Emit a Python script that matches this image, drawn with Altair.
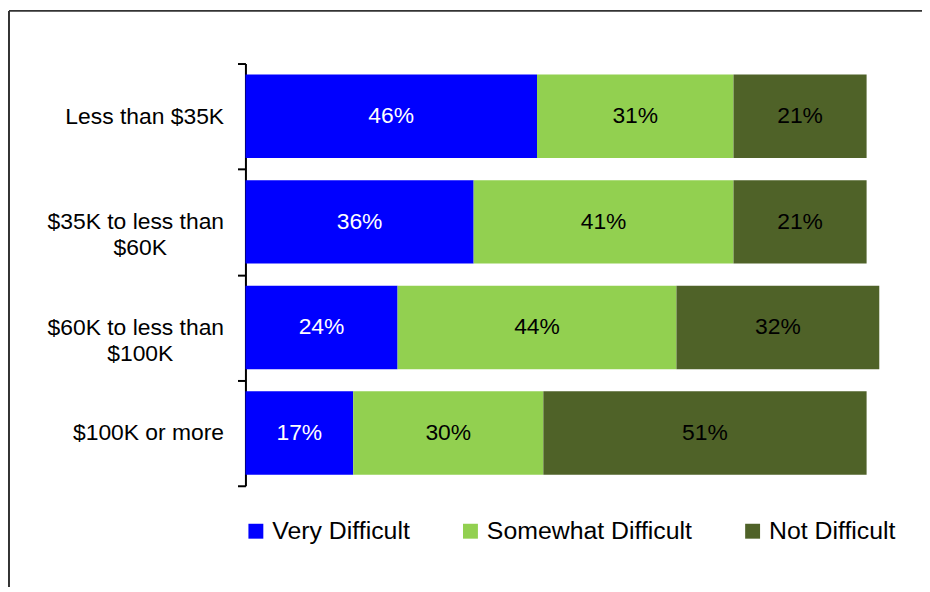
import altair as alt
import pandas as pd

NB = "\u00a0"
ZW = "\u200b"

categories = ["Less than $35K", "$35K to less than $60K", "$60K to less than $100K", "$100K or more"]
label_lines = [
    ["Less than $35K"],
    ["$35K to less than", "$60K" + NB * 9 + ZW],
    ["$60K to less than", "$100K" + NB * 8 + ZW],
    ["$100K or more"],
]
series = ["Very Difficult", "Somewhat Difficult", "Not Difficult"]
very_difficult = [46, 36, 24, 17]
somewhat_difficult = [31, 41, 44, 30]
not_difficult = [21, 21, 32, 51]
colors = ["#0000FF", "#92D050", "#4F6228"]
text_colors = ["#FFFFFF", "#000000", "#000000"]

rows = []
for i, cat in enumerate(categories):
    for j, (s, vals) in enumerate(zip(series, [very_difficult, somewhat_difficult, not_difficult])):
        rows.append({"category": cat, "series": s, "value": vals[i], "order": j, "tcolor": text_colors[j]})
df = pd.DataFrame(rows)

def js_str(s):
    return "'" + s.replace("\\", "\\\\").replace("'", "\\'") + "'"

expr = "datum.value"
for cat, lines in reversed(list(zip(categories, label_lines))):
    arr = "[" + ",".join(js_str(l) for l in lines) + "]"
    expr = f"datum.value == {js_str(cat)} ? {arr} : ({expr})"

FONT = "Liberation Sans"

base = alt.Chart(df).transform_stack(
    stack="value", groupby=["category"], as_=["x0", "x1"], sort=[alt.SortField("order", order="ascending")]
).transform_calculate(mid="(datum.x0 + datum.x1) / 2", label="datum.value + '%'")

yenc = alt.Y(
    "category:N",
    sort=categories,
    scale=alt.Scale(paddingInner=0, paddingOuter=0),
    axis=alt.Axis(
        title=None,
        domainColor="black",
        domainWidth=2,
        tickColor="black",
        tickWidth=2,
        tickSize=8,
        tickBand="extent",
        grid=False,
        labelFont=FONT,
        labelFontSize=23,
        labelColor="black",
        labelPadding=14,
        labelLineHeight=26,
        labelLimit=400,
        labelExpr=expr,
    ),
)

bars = base.mark_bar(size=84, strokeWidth=0).encode(
    x=alt.X("x0:Q", scale=alt.Scale(domain=[0, 100], nice=False, zero=True), axis=None),
    x2="x1:Q",
    y=yenc,
    color=alt.Color(
        "series:N",
        scale=alt.Scale(domain=series, range=colors),
        legend=alt.Legend(
            orient="none",
            legendX=-2,
            legendY=458,
            direction="horizontal",
            title=None,
            symbolType="square",
            symbolSize=225,
            symbolStrokeWidth=0,
            labelFont=FONT,
            labelFontSize=25,
            labelColor="black",
            labelOffset=4,
            columnPadding=48,
            labelLimit=400,
        ),
    ),
)

text = base.mark_text(font=FONT, fontSize=23, align="center", baseline="middle").encode(
    x=alt.X("mid:Q"),
    y=alt.Y("category:N", sort=categories),
    text="label:N",
    color=alt.Color("tcolor:N", scale=None),
)

frame_data = alt.Data(values=[{}])
frame_v = alt.Chart(frame_data).mark_rule(color="#333333", strokeWidth=2).encode(
    x=alt.value(-238), y=alt.value(-53), y2=alt.value(530)
)
frame_h = alt.Chart(frame_data).mark_rule(color="#333333", strokeWidth=2).encode(
    x=alt.value(-238), x2=alt.value(720), y=alt.value(-53)
)

chart = alt.layer(frame_v, frame_h, bars, text).properties(
    width=638,
    height=425,
    padding={"left": 239, "top": 54, "right": 43, "bottom": 100},
    autosize=alt.AutoSizeParams(type="none"),
    background="white",
).configure_view(stroke=None)

chart.save("out.html", embed_options={"renderer": "svg", "actions": False})
